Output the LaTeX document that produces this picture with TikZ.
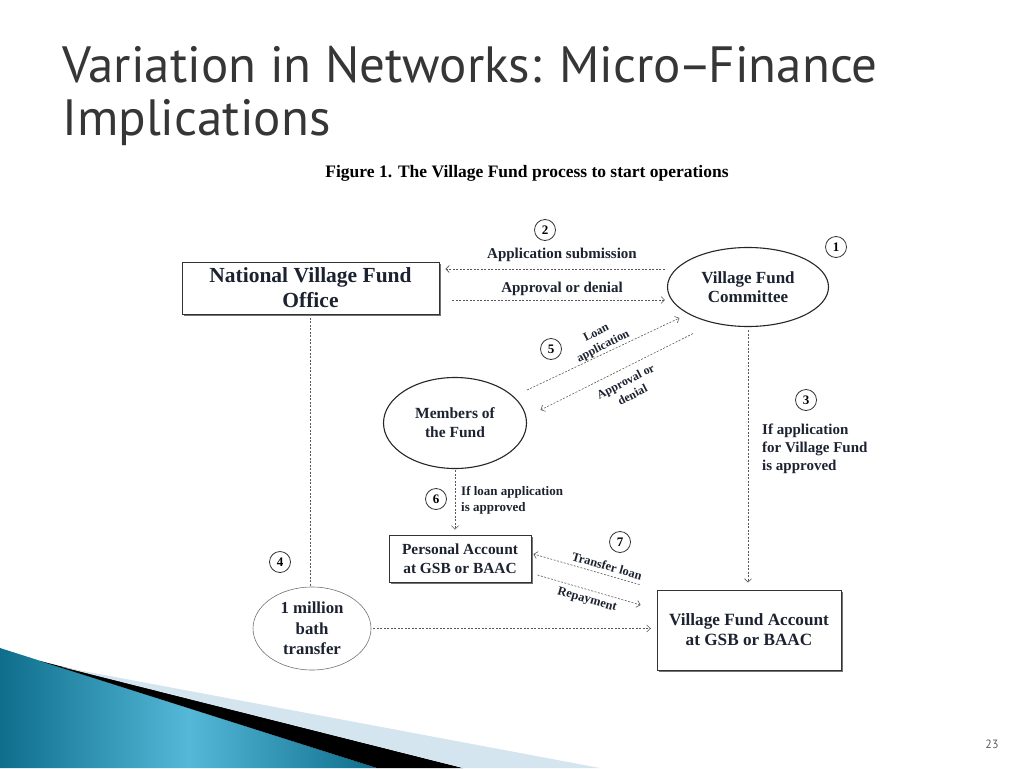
\documentclass[tikz,border=0pt]{standalone}
\usepackage{fontspec}
\setmainfont{Liberation Serif}
\newfontfamily\titlefont{PT Sans}
\usetikzlibrary{arrows.meta,shapes.geometric,shadows}
\definecolor{titlegray}{HTML}{363636}
\definecolor{inkblue}{HTML}{1C2230}
\definecolor{tealdark}{HTML}{0E6E8C}
\definecolor{teallight}{HTML}{55B8D8}
\definecolor{paleblue}{HTML}{D5E5EF}
\tikzstyle{flow}=[
	draw=black!65,
	line width=0.6pt,
	dash pattern=on 2pt off 1.5pt,
	-{Straight Barb[length=3.5pt,width=7pt]}
]
\tikzstyle{link}=[
	flow,
	-
]
\tikzstyle{acct}=[
	rectangle,
	draw=black!80,
	line width=0.8pt,
	fill=white,
	align=center,
	text=inkblue,
	drop shadow={shadow xshift=1.5pt, shadow yshift=-1.5pt, fill=black!55, opacity=1}
]
\tikzstyle{party}=[
	ellipse,
	draw=black!85,
	line width=1.1pt,
	fill=white,
	align=center,
	text=inkblue,
	inner sep=0pt
]
\tikzstyle{stepno}=[
	circle,
	draw=black!80,
	line width=0.8pt,
	minimum size=21pt,
	inner sep=0pt,
	font=\bfseries\fontsize{13}{13}\selectfont
]
\tikzstyle{lbl}=[
	text=inkblue,
	inner sep=0pt
]

\begin{document}
\begin{tikzpicture}[x=1pt, y=-1pt]
\useasboundingbox (0,0) rectangle (1024,768);

% slide decoration
\shade[left color=tealdark, right color=tealdark, middle color=teallight] (0,648) -- (377,768) -- (0,768) -- cycle;
\fill[black] (40,661) -- (463,768) -- (377,768) -- cycle;
\fill[paleblue] (62,667) -- (600,768) -- (463,768) -- cycle;

\node[anchor=base west, inner sep=0pt, text=titlegray, font=\titlefont\fontsize{51}{55}\selectfont] at (62,82) (title1) {Variation in Networks: Micro\kern-3pt–\kern-3pt Finance};
\node[anchor=base west, inner sep=0pt, text=titlegray, font=\titlefont\fontsize{51}{55}\selectfont] at (62,135) (title2) {Implications};
\node[inner sep=0pt, font=\bfseries\fontsize{17.5}{20}\selectfont] at (527,173) (caption) {Figure 1. The Village Fund process to start operations};
\node[inner sep=0pt, text=titlegray!80, font=\titlefont\fontsize{12}{12}\selectfont] at (992,744) (pageno) {23};

% boxes and ellipses
\node[acct, minimum width=257pt, minimum height=52pt, font=\bfseries\fontsize{21.5}{25}\selectfont] at (310.5,288) (nvfo) {National Village Fund\\Office};
\node[party, minimum width=161pt, minimum height=79pt, font=\bfseries\fontsize{17}{19}\selectfont] at (748,287) (vfc) {Village Fund\\Committee};
\node[party, minimum width=143pt, minimum height=91pt, font=\bfseries\fontsize{15.5}{19}\selectfont] at (455,423) (mem) {Members of\\the Fund};
\node[acct, minimum width=142pt, minimum height=47pt, font=\bfseries\fontsize{15.4}{19}\selectfont] at (460,558.5) (pers) {Personal Account\\at GSB or BAAC};
\node[acct, minimum width=184pt, minimum height=80pt, font=\bfseries\fontsize{17.2}{20}\selectfont] at (749,630) (vfa) {Village Fund Account\\at GSB or BAAC};
\node[party, draw=black!55, line width=0.6pt, minimum width=118pt, minimum height=83pt, font=\bfseries\fontsize{16.8}{20.5}\selectfont] at (312,628.5) (mil) {1 million\\bath\\transfer};

\foreach \n/\x/\y in {1/836/247, 2/545/230, 3/806/400, 4/280/562, 5/551/349, 6/436/499, 7/620/542}{
    \node[stepno] at (\x,\y) (n\n) {\n};
}

% connectors
\draw[flow] ([xshift=-2pt, yshift=18pt]vfc.west) to ([xshift=6pt, yshift=19pt]nvfo.east);
\draw[flow] ([xshift=13pt, yshift=-12pt]nvfo.east) to ([xshift=-2pt, yshift=-13pt]vfc.west);
\draw[flow] ([yshift=33pt]mem.east) to ([xshift=12.5pt, yshift=-31pt]vfc.west);
\draw[flow] ([xshift=-55pt, yshift=-6.5pt]vfc.south) to ([xshift=13.5pt, yshift=13pt]mem.east);
\draw[flow, shorten <=3pt, shorten >=7pt] (vfc.south) to (vfc.south |- vfa.north);
\draw[flow, shorten <=1pt, shorten >=5pt] (mem.south) to (mem.south |- pers.north);
\draw[link] (nvfo.south) to (nvfo.south |- mil.north);
\draw[flow, shorten <=2pt, shorten >=6pt] (mil.east) to (mil.east -| vfa.west);
\draw[flow] ([xshift=-17pt, yshift=5pt]vfa.north west) to ([xshift=2pt, yshift=4.5pt]pers.east);
\draw[flow] ([xshift=6pt, yshift=-16.5pt]pers.east) to ([xshift=-16pt, yshift=25pt]vfa.west);

% labels
\foreach \t/\x/\y in {Application submission/562/255, Approval or denial/562/289}{
    \node[lbl, font=\bfseries\fontsize{15}{15}\selectfont] at (\x,\y) {\t};
}
\node[lbl, align=center, rotate=27, font=\bfseries\fontsize{12}{15}\selectfont] at (600,340) (loanlbl) {Loan\\application};
\node[lbl, align=center, rotate=27, font=\bfseries\fontsize{12}{15}\selectfont] at (629,388) (denylbl) {Approval or\\denial};
\node[lbl, rotate=-16, font=\bfseries\fontsize{12.5}{15}\selectfont] at (607,566) (translbl) {Transfer loan};
\node[lbl, rotate=-16, font=\bfseries\fontsize{12.5}{15}\selectfont] at (587,600) (repaylbl) {Repayment};
\node[lbl, anchor=north west, align=left, font=\bfseries\fontsize{15}{18}\selectfont] at (762,424) (fundlbl) {If application\\for Village Fund\\is approved};
\node[lbl, anchor=north west, align=left, font=\bfseries\fontsize{13}{16}\selectfont] at (461,486) (loanok) {If loan application\\is approved};

\end{tikzpicture}
\end{document}
